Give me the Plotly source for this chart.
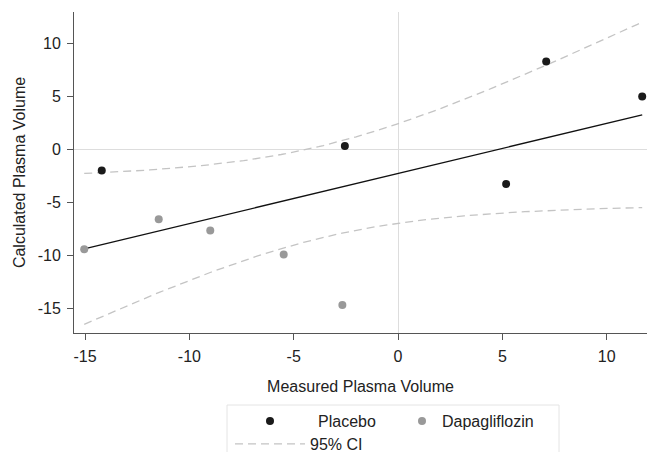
import numpy as np
import plotly.graph_objects as go

# ---- data ----
placebo_x = [-14.2, -2.55, 5.18, 7.1, 11.7]
placebo_y = [-2.0, 0.3, -3.27, 8.27, 4.97]
dapa_x = [-15.04, -11.47, -9.0, -5.48, -2.67]
dapa_y = [-9.43, -6.6, -7.67, -9.93, -14.7]
x_ticks = [-15, -10, -5, 0, 5, 10]
x_tick_labels = ["-15", "-10", "-5", "0", "5", "10"]
y_ticks = [-15, -10, -5, 0, 5, 10]
y_tick_labels = ["-15", "-10", "-5", "0", "5", "10"]
T_975_DF8 = 2.306  # Student t quantile, df = n - 2 = 8

# ---- linear fit with 95% CI of the mean (as in Stata lfitci) ----
xa = np.array(placebo_x + dapa_x)
ya = np.array(placebo_y + dapa_y)
n = len(xa)
slope, intercept = np.polyfit(xa, ya, 1)
resid = ya - (intercept + slope * xa)
s = np.sqrt(np.sum(resid ** 2) / (n - 2))
xbar = xa.mean()
sxx = np.sum((xa - xbar) ** 2)
xg = np.linspace(xa.min(), xa.max(), 120)
fit = intercept + slope * xg
half = T_975_DF8 * s * np.sqrt(1.0 / n + (xg - xbar) ** 2 / sxx)

FONT = "Liberation Sans, Arial, Helvetica, sans-serif"
TXT = "#222222"
CI_COLOR = "#c4c4c4"

fig = go.Figure()
fig.add_trace(go.Scatter(x=xg, y=fit + half, mode="lines", name="95% CI",
                         line=dict(color=CI_COLOR, width=1.3, dash="8px,5px"),
                         legend="legend3", showlegend=True, hoverinfo="skip"))
fig.add_trace(go.Scatter(x=xg, y=fit - half, mode="lines", name="95% CI lower",
                         line=dict(color=CI_COLOR, width=1.3, dash="8px,5px"),
                         showlegend=False, hoverinfo="skip"))
fig.add_trace(go.Scatter(x=xg, y=fit, mode="lines", name="Fit",
                         line=dict(color="#111111", width=1.4),
                         showlegend=False, hoverinfo="skip"))
fig.add_trace(go.Scatter(x=placebo_x, y=placebo_y, mode="markers", name="Placebo",
                         marker=dict(color="#1a1a1a", size=8), legend="legend"))
fig.add_trace(go.Scatter(x=dapa_x, y=dapa_y, mode="markers", name="Dapagliflozin",
                         marker=dict(color="#999999", size=8), legend="legend2"))

W, H = 647, 452
ml, mr, mt, mb = 74, 0, 12, 119
pw, ph = W - ml - mr, H - mt - mb

def px2x(p):
    return (p - ml) / pw

def py2y(p):
    return (H - mb - p) / ph

axis_common = dict(
    showgrid=False,
    zeroline=True, zerolinecolor="#dddddd", zerolinewidth=1,
    showline=True, linecolor="#555555", linewidth=1,
    ticks="outside", ticklen=6, tickcolor="#555555", tickwidth=1,
    tickfont=dict(family=FONT, size=16, color=TXT),
    mirror=False,
)

leg_common = dict(orientation="h", xanchor="left", yanchor="top",
                  bgcolor="rgba(0,0,0,0)", borderwidth=0,
                  font=dict(family=FONT, size=16, color=TXT))

fig.update_layout(
    width=W, height=H,
    margin=dict(l=ml, r=mr, t=mt, b=mb, autoexpand=False),
    paper_bgcolor="white", plot_bgcolor="white",
    font=dict(family=FONT, size=16, color=TXT),
    xaxis=dict(range=[-15.53, 11.93], tickvals=x_ticks, ticktext=x_tick_labels,
               ticklabelstandoff=3,
               title=dict(text="Measured Plasma Volume", font=dict(size=16), standoff=16),
               **axis_common),
    yaxis=dict(range=[-17.33, 12.95], tickvals=y_ticks, ticktext=y_tick_labels,
               ticklabelstandoff=3,
               title=dict(text="Calculated Plasma Volume", font=dict(size=16), standoff=8),
               **axis_common),
    legend=dict(x=px2x(222), y=py2y(404), itemwidth=86, **leg_common),
    legend2=dict(x=px2x(402), y=py2y(404), itemwidth=30, **leg_common),
    legend3=dict(x=px2x(230), y=py2y(427), itemwidth=70, **leg_common),
    shapes=[dict(type="rect", xref="paper", yref="paper",
                 x0=px2x(227), x1=px2x(559), y0=py2y(470), y1=py2y(405),
                 line=dict(color="#e4e4e4", width=1), fillcolor="rgba(0,0,0,0)",
                 layer="below")],
    showlegend=True,
)

fig.write_html("out.html", config={"displayModeBar": False},
               post_script="document.body.style.margin='0';")
